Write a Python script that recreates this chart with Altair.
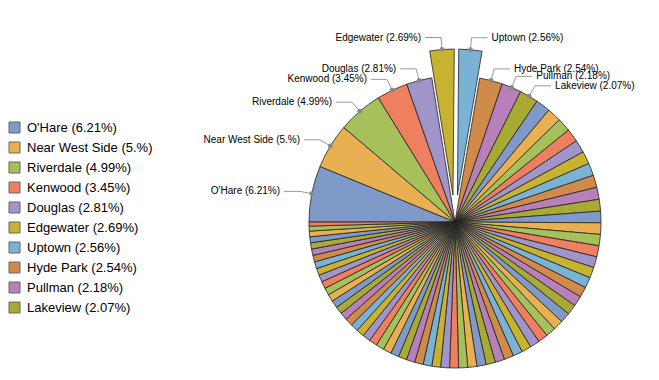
import math
import altair as alt
import pandas as pd

# ---------------- data ----------------
top_names = ["O'Hare", "Near West Side", "Riverdale", "Kenwood", "Douglas",
             "Edgewater", "Uptown", "Hyde Park", "Pullman", "Lakeview"]
top_pct_text = ["6.21", "5.", "4.99", "3.45", "2.81", "2.69", "2.56", "2.54", "2.18", "2.07"]
top_values = [6.21, 5.0, 4.99, 3.45, 2.81, 2.69, 2.56, 2.54, 2.18, 2.07]

other_names = [
    "Rogers Park", "West Ridge", "Lincoln Square", "North Center", "Lincoln Park",
    "Near North Side", "Edison Park", "Norwood Park", "Jefferson Park", "Forest Glen",
    "North Park", "Albany Park", "Portage Park", "Irving Park", "Dunning",
    "Montclare", "Belmont Cragin", "Hermosa", "Avondale", "Logan Square",
    "Humboldt Park", "West Town", "Austin", "West Garfield Park", "East Garfield Park",
    "North Lawndale", "South Lawndale", "Lower West Side", "Loop", "Near South Side",
    "Armour Square", "Oakland", "Grand Boulevard", "Washington Park", "Woodlawn",
    "South Shore", "Chatham", "Avalon Park", "South Chicago", "Calumet Heights",
    "Roseland", "South Deering", "East Side", "West Pullman", "Garfield Ridge",
    "Archer Heights", "Brighton Park", "McKinley Park", "Bridgeport", "New City",
    "West Elsdon", "Gage Park", "Clearing", "West Lawn", "Chicago Lawn",
    "West Englewood", "Englewood", "Greater Grand Crossing", "Ashburn", "Auburn Gresham",
    "Beverly", "Washington Heights", "Mount Greenwood", "Morgan Park",
]
other_values = [
    1.62, 1.55, 1.5, 1.46, 1.42, 1.4, 1.38, 1.36, 1.33, 1.3, 1.28,
    1.27, 1.25, 1.23, 1.21, 1.19, 1.17, 1.15, 1.14, 1.13, 1.12, 1.11, 1.1,
    1.09, 1.08, 1.07, 1.06, 1.05, 1.04, 1.03, 1.02, 1.01, 1.0, 0.99,
    0.98, 0.97, 0.96, 0.95, 0.94, 0.93, 0.92, 0.91, 0.9, 0.89,
    0.88, 0.87, 0.86, 0.85, 0.84, 0.83, 0.82, 0.81, 0.8, 0.79,
    0.78, 0.77, 0.75, 0.73, 0.71, 0.69, 0.66, 0.62, 0.55, 0.45,
]
exploded_names = ["Edgewater", "Uptown"]

palette = ["#7f9ac8", "#e8b050", "#a6c05a", "#ee7f5f", "#a094c8",
           "#c8b232", "#7ab2d6", "#d08a4a", "#b780b8", "#a8aa34"]

# ---------------- layout ----------------
CX, CY, R = 447, 214, 146
OFF = 27          # explode distance
LEAD = 12         # radial leader length
HLEN = 16         # horizontal leader length
GAP = 4
START = 1.5 * math.pi
FONT = "Liberation Sans"

names = top_names + other_names
values = top_values + other_values
total = sum(values)
labels = [f"{n} ({p}%)" for n, p in zip(top_names, top_pct_text)] + other_names

rows = []
cum = 0.0
for i, (n, lab, v) in enumerate(zip(names, labels, values)):
    c0, c1 = cum, cum + v
    cum = c1
    mid = START + 2 * math.pi * (c0 + c1) / 2 / total
    ex = OFF if n in exploded_names else 0
    rows.append(dict(name=n, label=lab, value=v, rank=i, c0=c0, c1=c1, mid=mid,
                     cx=CX + ex * math.sin(mid), cy=CY - ex * math.cos(mid)))
df = pd.DataFrame(rows)

seg_rows, dot_rows, txt_rows = [], [], []
for r in rows[:10]:
    s, c = math.sin(r["mid"]), -math.cos(r["mid"])
    ax, ay = r["cx"] + R * s, r["cy"] + R * c
    ex_, ey_ = ax + LEAD * s, ay + LEAD * c
    side = 1 if s >= 0 else -1
    hx = ex_ + side * HLEN
    seg_rows.append(dict(x=ax, y=ay, x2=ex_, y2=ey_))
    seg_rows.append(dict(x=ex_, y=ey_, x2=hx, y2=ey_))
    dot_rows.append(dict(x=ax, y=ay))
    txt_rows.append(dict(x=hx + side * GAP, y=ey_, text=r["label"],
                         side="right" if side > 0 else "left"))
seg_df = pd.DataFrame(seg_rows)
dot_df = pd.DataFrame(dot_rows)
txt_df = pd.DataFrame(txt_rows)

# ---------------- chart ----------------
pie = alt.Chart(df).mark_arc(radius=R, stroke="#222222", strokeWidth=0.8).encode(
    theta=alt.Theta("c0:Q", stack=False,
                    scale=alt.Scale(domain=[0, total], range=[START, START + 2 * math.pi])),
    theta2="c1:Q",
    x=alt.X("cx:Q", scale=None, axis=None),
    y=alt.Y("cy:Q", scale=None, axis=None),
    order=alt.Order("rank:Q"),
    color=alt.Color(
        "label:N",
        scale=alt.Scale(domain=labels, range=palette),
        legend=alt.Legend(
            values=labels[:10], title=None, orient="none", legendX=0, legendY=113,
            symbolType="square", symbolSize=121, symbolStrokeColor="#666666",
            symbolStrokeWidth=1, labelFontSize=13, labelFont=FONT, labelColor="#000000",
            rowPadding=5, labelOffset=6, padding=0, labelLimit=300,
        ),
    ),
)

segs = alt.Chart(seg_df).mark_rule(color="#999999", strokeWidth=1).encode(
    x=alt.X("x:Q", scale=None, axis=None), y=alt.Y("y:Q", scale=None, axis=None),
    x2="x2:Q", y2="y2:Q",
)
dots = alt.Chart(dot_df).mark_circle(color="#888888", size=24, opacity=1).encode(
    x=alt.X("x:Q", scale=None, axis=None), y=alt.Y("y:Q", scale=None, axis=None),
)
txt_left = alt.Chart(txt_df).transform_filter(alt.datum.side == "left").mark_text(
    align="right", baseline="middle", font=FONT, fontSize=10, color="#000000"
).encode(x=alt.X("x:Q", scale=None, axis=None), y=alt.Y("y:Q", scale=None, axis=None), text="text:N")
txt_right = alt.Chart(txt_df).transform_filter(alt.datum.side == "right").mark_text(
    align="left", baseline="middle", font=FONT, fontSize=10, color="#000000"
).encode(x=alt.X("x:Q", scale=None, axis=None), y=alt.Y("y:Q", scale=None, axis=None), text="text:N")

chart = alt.layer(pie, segs, dots, txt_left, txt_right).properties(
    width=640, height=364, padding=0
).configure_view(strokeWidth=0)

chart.save("out.html", embed_options={"renderer": "svg", "actions": False})
